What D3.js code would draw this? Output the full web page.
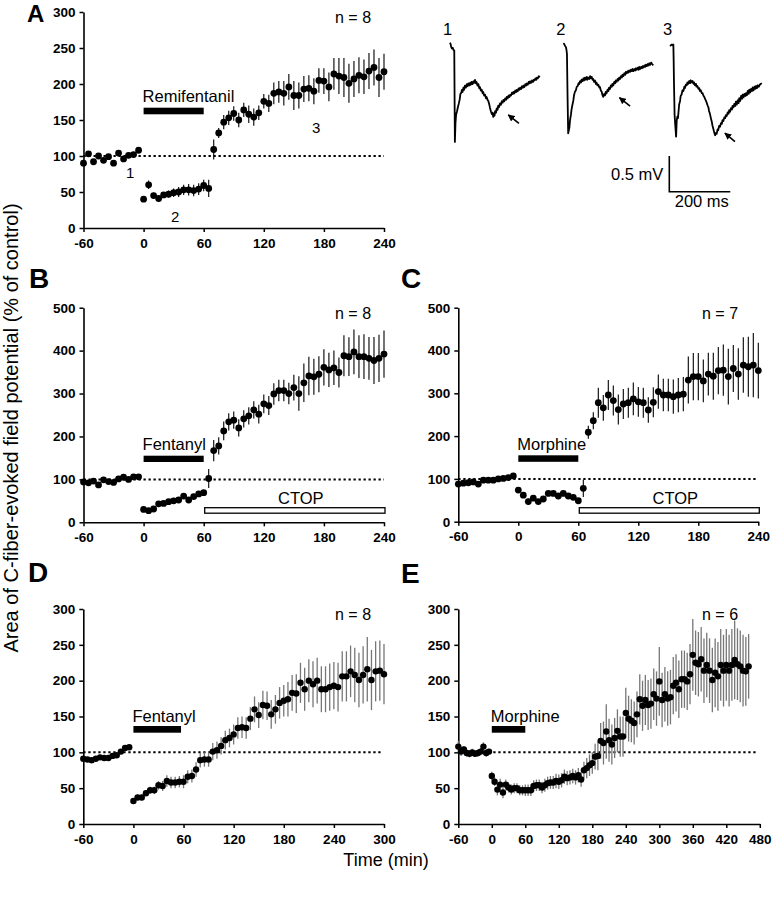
<!DOCTYPE html>
<html><head><meta charset="utf-8">
<script src="https://cdn.jsdelivr.net/npm/d3@7"></script>
<style>
body{margin:0;background:#fff}
svg{display:block}
text{font-family:"Liberation Sans",Arial,Helvetica,sans-serif}
</style>
</head><body>
<svg id="c" width="772" height="900"></svg>
<script>
// ---------------- DATA ----------------
// sampling times (min), one point every 5 min
const timesA = d3.range(-60, 241, 5);
const timesB = d3.range(-60, 241, 5);
const timesC = d3.range(-60, 241, 5);
const timesD = d3.range(-60, 301, 5);
const timesE = d3.range(-60, 461, 5);

// Panel A: remifentanil (% of control) and SEM
const valuesA = [90,103,92,100,94,99,90,104,96,101,102,108,
  40,60,45,41,46,47,49,50,53,53,52,54,59,55,
  109,132,147,153,159,150,164,158,154,160,176,173,187,189,187,196,184,184,193,194,190,205,204,196,214,211,209,201,207,212,210,218,223,209,217];
const semA = [3,3,3,3,3,3,3,3,3,3,3,3,
  4,6,4,4,4,5,6,7,7,8,8,8,8,12,
  14,7,10,10,10,10,10,12,12,10,10,12,15,15,17,18,20,18,18,18,18,17,18,20,22,25,27,27,25,25,24,25,25,27,25];

// Panel B: fentanyl + CTOP
const valuesB = [94,92,96,87,99,95,93,101,105,100,106,106,
  30,27,31,43,44,48,50,52,61,52,60,66,69,
  102,
  167,178,213,234,238,220,241,248,262,252,276,272,299,307,307,300,314,300,325,341,339,345,361,355,360,349,388,386,397,386,386,382,377,382,392];
const semB = [3,3,3,4,3,3,3,3,3,3,3,3,
  3,3,3,3,3,3,3,3,4,4,4,4,4,
  22,
  25,20,22,20,20,20,20,20,20,22,22,22,25,25,25,25,30,40,45,45,42,42,42,40,40,35,48,45,52,50,52,50,55,55,55];

// Panel C: morphine + CTOP
const valuesC = [88,90,91,93,88,97,97,97,100,101,103,107,
  74,62,47,55,47,53,66,66,60,66,60,57,49,
  78,
  209,236,278,266,296,283,262,275,278,287,280,278,261,279,304,296,296,292,296,298,331,339,339,329,345,340,353,354,339,358,345,366,362,366,353];
const semC = [3,3,3,3,3,3,3,3,3,3,3,3,
  5,5,7,6,5,5,5,5,5,5,5,5,5,
  20,
  15,20,35,30,35,35,35,35,35,38,35,35,30,35,40,38,38,40,40,40,55,55,55,50,50,55,55,60,65,55,60,65,70,75,65];

// Panel D: fentanyl, long recording
const valuesD = [91,90,89,91,93,92,92,95,96,101,106,107,
  32,37,37,43,47,47,54,53,60,58,58,59,59,66,67,76,89,90,90,101,103,109,117,120,125,134,135,134,
  147,160,152,166,165,153,160,169,172,174,183,182,197,188,200,195,200,188,188,191,193,191,
  206,206,213,208,201,208,216,201,213,214,209];
const semD = [3,3,3,3,3,3,3,3,3,3,3,3,
  4,4,4,4,5,5,6, 7,8,8,8,8,9, 9,9,10,10,10,10,
  12,12,12,13,13,14,15,15,15, 16,18,18,20,20,20,20,22,
  22,24,25,27,28,30,30,32,32,32,32,33,33,
  34,35,35,36,38,38,40,45,42,42,42,42];

// Panel E: morphine, long recording
const valuesE = [108,101,104,99,98,100,98,99,101,108,99,101,
  67,59,48,55,44,55,51,48,50,50,47,47,47,47,47,53,54,54,51,54,57,58,58,60,59,61,66,64,65,67,65,68,62,
  75,78,82,85,94,95,116,113,129,117,111,120,130,122,122,
  155,147,144,141,153,174,165,173,166,168,181,175,199,
  173,181,175,177,193,197,188,202,202,199,209,
  236,225,223,230,214,222,214,201,211,206,222,214,222,214,222,229,223,220,214,213,220];
const semE = [8,6,5,5,5,5,4,5,5,6,5,4,
  6,6,8,8,8,7,7,7,7,7,7,7,8,8,8,
  8,8,8,8,9,9,9,9,10,10,10,10,10,10,10,10,10,10,
  12,14,15,15,18,20,25,30,38,30,28,28,30,28,28,
  35,32,30,30,32,35,35,35,35,35,36,38,48,
  38,38,38,38,40,40,40,40,40,40,42,
  50,45,45,45,45,45,45,45,48,48,50,50,50,50,50,55,50,50,50,48,45];

const yTicks300 = [0,50,100,150,200,250,300];
const yTicks500 = [0,100,200,300,400,500];
const xTicks240 = [-60,0,60,120,180,240];
const xTicks300 = [-60,0,60,120,180,240,300];
const xTicks480 = [-60,0,60,120,180,240,300,360,420,480];

// Sample field potential traces: [time (ms), potential (mV)]
const trace1 = [[0,0],[2,-0.02],[4,-0.06],[6,-0.08],[9,-0.07],[11,-0.10],[14,-0.11],[16,-1.39],[18,-1.12],[20,-1.01],[23,-0.96],[26,-0.90],[29,-0.85],[32,-0.79],[34,-0.72],[37,-0.70],[39,-0.66],[41,-0.69],[44,-0.63],[46,-0.66],[49,-0.60],[52,-0.63],[55,-0.58],[57,-0.61],[60,-0.57],[63,-0.60],[66,-0.56],[68,-0.59],[71,-0.55],[74,-0.58],[77,-0.54],[80,-0.56],[82,-0.52],[85,-0.57],[87,-0.55],[90,-0.60],[93,-0.58],[96,-0.64],[98,-0.62],[101,-0.67],[104,-0.66],[107,-0.71],[109,-0.69],[112,-0.74],[115,-0.73],[118,-0.78],[120,-0.76],[123,-0.80],[126,-0.82],[129,-0.87],[131,-0.91],[134,-0.96],[137,-1.00],[139,-0.98],[142,-1.04],[144,-0.99],[146,-1.02],[148,-0.96],[151,-0.98],[153,-0.92],[156,-0.94],[158,-0.88],[161,-0.90],[164,-0.85],[167,-0.87],[170,-0.82],[173,-0.84],[175,-0.80],[178,-0.82],[181,-0.78],[184,-0.80],[186,-0.76],[189,-0.78],[192,-0.74],[195,-0.76],[197,-0.73],[200,-0.74],[203,-0.70],[206,-0.72],[208,-0.69],[211,-0.71],[214,-0.67],[217,-0.69],[219,-0.66],[222,-0.68],[225,-0.64],[228,-0.66],[230,-0.63],[233,-0.65],[236,-0.61],[239,-0.63],[241,-0.60],[244,-0.62],[247,-0.58],[250,-0.60],[252,-0.57],[255,-0.59],[258,-0.55],[261,-0.57],[263,-0.54],[266,-0.56],[269,-0.53],[272,-0.55],[274,-0.52],[277,-0.53],[280,-0.50],[283,-0.52],[285,-0.49],[288,-0.50],[291,-0.47],[295,-0.48]];
const trace2 = [[0,0],[3,-0.01],[5,-0.03],[8,-0.05],[10,-0.08],[12,-0.15],[14,-0.76],[16,-1.26],[18,-1.22],[20,-1.18],[22,-1.08],[25,-1.00],[27,-0.93],[30,-0.86],[33,-0.80],[35,-0.73],[38,-0.68],[41,-0.66],[44,-0.61],[47,-0.60],[50,-0.56],[52,-0.57],[55,-0.53],[58,-0.55],[60,-0.51],[63,-0.53],[66,-0.49],[68,-0.52],[71,-0.48],[74,-0.51],[77,-0.47],[79,-0.51],[82,-0.48],[85,-0.50],[88,-0.46],[90,-0.49],[93,-0.47],[96,-0.51],[98,-0.50],[101,-0.54],[104,-0.52],[107,-0.57],[109,-0.55],[112,-0.59],[115,-0.58],[118,-0.62],[120,-0.61],[123,-0.66],[126,-0.68],[128,-0.72],[131,-0.75],[134,-0.71],[137,-0.73],[139,-0.68],[142,-0.70],[145,-0.65],[148,-0.67],[150,-0.62],[153,-0.64],[156,-0.59],[159,-0.61],[161,-0.57],[164,-0.59],[167,-0.54],[170,-0.56],[172,-0.52],[175,-0.54],[178,-0.50],[181,-0.52],[183,-0.48],[186,-0.50],[189,-0.46],[192,-0.48],[194,-0.44],[197,-0.46],[200,-0.42],[203,-0.44],[205,-0.40],[208,-0.42],[211,-0.39],[214,-0.41],[216,-0.38],[219,-0.40],[222,-0.37],[225,-0.39],[227,-0.36],[230,-0.39],[233,-0.36],[236,-0.38],[238,-0.35],[241,-0.37],[244,-0.34],[247,-0.37],[249,-0.33],[252,-0.36],[255,-0.33],[258,-0.35],[260,-0.32],[263,-0.34],[266,-0.31],[269,-0.33],[271,-0.30],[274,-0.32],[277,-0.29],[280,-0.31],[282,-0.28],[285,-0.30],[288,-0.27],[291,-0.29],[295,-0.31]];
const trace3 = [[0,0],[3,0.01],[6,0.02],[9,0.01],[11,0.02],[12,-0.20],[13,-0.50],[15,-0.96],[17,-1.10],[20,-1.27],[22,-1.05],[24,-0.99],[26,-1.01],[28,-0.92],[30,-0.82],[33,-0.77],[35,-0.70],[38,-0.68],[41,-0.62],[44,-0.63],[47,-0.57],[49,-0.59],[52,-0.54],[55,-0.55],[57,-0.51],[60,-0.53],[63,-0.49],[66,-0.52],[68,-0.48],[71,-0.51],[74,-0.49],[77,-0.53],[79,-0.51],[82,-0.55],[85,-0.53],[87,-0.57],[90,-0.56],[93,-0.60],[96,-0.59],[98,-0.63],[101,-0.62],[104,-0.66],[107,-0.66],[109,-0.69],[112,-0.71],[115,-0.74],[118,-0.77],[120,-0.79],[123,-0.83],[126,-0.86],[128,-0.91],[131,-0.95],[134,-1.01],[137,-1.06],[139,-1.11],[142,-1.16],[145,-1.21],[148,-1.25],[150,-1.22],[153,-1.23],[156,-1.17],[158,-1.18],[161,-1.12],[164,-1.13],[167,-1.08],[170,-1.09],[172,-1.04],[175,-1.05],[178,-1.00],[181,-1.01],[183,-0.97],[186,-0.98],[189,-0.93],[192,-0.95],[194,-0.90],[197,-0.92],[200,-0.87],[203,-0.89],[205,-0.84],[208,-0.86],[211,-0.81],[214,-0.84],[216,-0.78],[219,-0.82],[222,-0.76],[225,-0.80],[227,-0.73],[230,-0.77],[233,-0.70],[236,-0.74],[238,-0.68],[241,-0.72],[244,-0.67],[247,-0.70],[249,-0.66],[252,-0.69],[255,-0.63],[258,-0.67],[260,-0.61],[263,-0.65],[266,-0.60],[269,-0.63],[271,-0.58],[274,-0.62],[277,-0.57],[280,-0.60],[282,-0.56],[285,-0.59],[288,-0.55],[291,-0.57],[295,-0.54],[301,-0.52]];
// arrows pointing at the late component: [tail, head] in (ms, mV)
const arrow1 = [[226,-1.13],[191,-1.01]];
const arrow2 = [[219,-0.88],[184,-0.76]];
const arrow3 = [[213,-1.34],[180,-1.22]];

// ---------------- DRAWING ----------------
const svg = d3.select("#c");
const defs = svg.append("defs");
defs.append("marker").attr("id","ah").attr("viewBox","0 0 10 10")
  .attr("refX",9).attr("refY",5).attr("markerWidth",7).attr("markerHeight",7)
  .attr("markerUnits","userSpaceOnUse").attr("orient","auto")
  .append("path").attr("d","M0,0 L10,5 L0,10 z").attr("fill","#000");

const plainFmt = d => String(d);

function panel(cfg) {
  const x = d3.scaleLinear().domain(cfg.xDomain).range([cfg.left, cfg.right]);
  const y = d3.scaleLinear().domain(cfg.yDomain).range([cfg.bottom, cfg.top]);
  const g = svg.append("g");

  const gy = g.append("g").attr("transform", `translate(${cfg.left},0)`)
    .call(d3.axisLeft(y).tickValues(cfg.yTicks).tickFormat(plainFmt).tickSize(4).tickPadding(4).tickSizeOuter(0));
  const gx = g.append("g").attr("transform", `translate(0,${cfg.bottom})`)
    .call(d3.axisBottom(x).tickValues(cfg.xTicks).tickFormat(plainFmt).tickSize(4).tickPadding(6).tickSizeOuter(0));
  [gy, gx].forEach(a => {
    a.select(".domain").attr("stroke","#000").attr("stroke-width",1.6);
    a.selectAll(".tick line").attr("stroke","#000").attr("stroke-width",1.5);
    a.selectAll(".tick text").attr("fill","#000").style("font-size","13.5px").style("font-weight","bold")
      .style("font-family",'"Liberation Sans",Arial,sans-serif');
  });

  // 100 % control line
  g.append("line").attr("x1", x(cfg.xDomain[0])).attr("x2", x(cfg.dotEnd))
    .attr("y1", y(100)).attr("y2", y(100))
    .attr("stroke","#000").attr("stroke-width",2).attr("stroke-dasharray","2.3,2.7");

  const pts = cfg.times.map((t,i) => ({t, v: cfg.values[i], s: cfg.sem[i]}));
  g.append("g").selectAll("line").data(pts).join("line")
    .attr("x1", d => x(d.t)).attr("x2", d => x(d.t))
    .attr("y1", d => y(d.v - d.s)).attr("y2", d => y(d.v + d.s))
    .attr("stroke", cfg.errColor).attr("stroke-width", cfg.errWidth);
  g.append("g").selectAll("circle").data(pts).join("circle")
    .attr("cx", d => x(d.t)).attr("cy", d => y(d.v)).attr("r", cfg.r).attr("fill","#000");

  // drug application bar
  g.append("rect").attr("x", x(0)).attr("width", x(cfg.drugEnd) - x(0))
    .attr("y", cfg.barY).attr("height", cfg.barH).attr("fill","#000");
  g.append("text").attr("x", x(0) - 1).attr("y", cfg.drugLabelY).text(cfg.drug)
    .style("font-size","16.5px").attr("fill","#000");

  if (cfg.ctop) {
    g.append("rect").attr("x", x(60) + 1).attr("width", x(240) - x(60))
      .attr("y", cfg.ctopY).attr("height", 5.5)
      .attr("fill","#fff").attr("stroke","#000").attr("stroke-width",1.3);
    g.append("text").attr("x", (x(60) + x(240)) / 2 + 7).attr("y", cfg.ctopY - 3.5)
      .attr("text-anchor","middle").text("CTOP").style("font-size","16.5px");
  }

  g.append("text").attr("x", cfg.nX).attr("y", cfg.top + 11).text(cfg.nText)
    .style("font-size","16px");
  g.append("text").attr("x", cfg.letterX).attr("y", cfg.letterY).text(cfg.letter)
    .style("font-size", cfg.letterSize + "px").style("font-weight","bold");
  return {x, y, g};
}

const pA = panel({letter:"A", letterX:27, letterY:22, letterSize:24,
  left:83.5, right:384, top:12, bottom:228, xDomain:[-60,240], yDomain:[0,300],
  xTicks:xTicks240, yTicks:yTicks300, dotEnd:240,
  times:timesA, values:valuesA, sem:semA, errColor:"#000", errWidth:1.1, r:3.4,
  drug:"Remifentanil", drugEnd:60, barY:107.7, barH:6.6, drugLabelY:101.7,
  nX:335, nText:"n = 8"});
// trace markers in panel A
[["1",126,178],["2",171,222],["3",312,133]].forEach(([s,xx,yy]) =>
  pA.g.append("text").attr("x",xx).attr("y",yy).text(s).style("font-size","15px"));

panel({letter:"B", letterX:29, letterY:288, letterSize:28,
  left:83.5, right:384, top:307.7, bottom:522.3, xDomain:[-60,240], yDomain:[0,500],
  xTicks:xTicks240, yTicks:yTicks500, dotEnd:240,
  times:timesB, values:valuesB, sem:semB, errColor:"#000", errWidth:1.1, r:3.4,
  drug:"Fentanyl", drugEnd:60, barY:455.7, barH:6.3, drugLabelY:450,
  ctop:true, ctopY:507.7, nX:335, nText:"n = 8"});

panel({letter:"C", letterX:401, letterY:288, letterSize:28,
  left:458.3, right:758.3, top:307.7, bottom:521.7, xDomain:[-60,240], yDomain:[0,500],
  xTicks:xTicks240, yTicks:yTicks500, dotEnd:240,
  times:timesC, values:valuesC, sem:semC, errColor:"#000", errWidth:1.1, r:3.4,
  drug:"Morphine", drugEnd:60, barY:455.3, barH:6.5, drugLabelY:450,
  ctop:true, ctopY:507.7, nX:702, nText:"n = 7"});

panel({letter:"D", letterX:28, letterY:582, letterSize:28,
  left:83.3, right:384, top:609, bottom:824, xDomain:[-60,300], yDomain:[0,300],
  xTicks:xTicks300, yTicks:yTicks300, dotEnd:298,
  times:timesD, values:valuesD, sem:semD, errColor:"#777", errWidth:1.3, r:3.2,
  drug:"Fentanyl", drugEnd:57, barY:726, barH:6.7, drugLabelY:721.7,
  nX:335, nText:"n = 8"});

panel({letter:"E", letterX:401, letterY:583, letterSize:28,
  left:458.3, right:759.8, top:609, bottom:824, xDomain:[-60,480], yDomain:[0,300],
  xTicks:xTicks480, yTicks:yTicks300, dotEnd:475,
  times:timesE, values:valuesE, sem:semE, errColor:"#777", errWidth:1.3, r:3.2,
  drug:"Morphine", drugEnd:60, barY:726, barH:6.7, drugLabelY:721.7,
  nX:702, nText:"n = 6"});

// ---------------- traces ----------------
const msPx = 61 / 200, mvPx = 35.7 / 0.5;
function drawTrace(data, arrow, ox, oy, label) {
  const tx = d3.scaleLinear().domain([0, 200]).range([ox, ox + 200 * msPx]);
  const ty = d3.scaleLinear().domain([0, -0.5]).range([oy, oy + 0.5 * mvPx]);
  svg.append("path").datum(data)
    .attr("d", d3.line().x(d => tx(d[0])).y(d => ty(d[1])))
    .attr("fill","none").attr("stroke","#000").attr("stroke-width",1.8)
    .attr("stroke-linejoin","round");
  svg.append("line")
    .attr("x1", tx(arrow[0][0])).attr("y1", ty(arrow[0][1]))
    .attr("x2", tx(arrow[1][0])).attr("y2", ty(arrow[1][1]))
    .attr("stroke","#000").attr("stroke-width",1.6).attr("marker-end","url(#ah)");
  svg.append("text").attr("x", ox - 7).attr("y", 35).text(label).style("font-size","16.5px");
}
drawTrace(trace1, arrow1, 450, 42.7, "1");
drawTrace(trace2, arrow2, 563.3, 43.3, "2");
drawTrace(trace3, arrow3, 670, 46, "3");

// scale bar
const sbx = d3.scaleLinear().domain([0, 200]).range([669.3, 669.3 + 200 * msPx]);
const sby = d3.scaleLinear().domain([0, 0.5]).range([191.7, 191.7 - 0.5 * mvPx]);
svg.append("path")
  .attr("d", `M${sbx(0)},${sby(0.5)} L${sbx(0)},${sby(0)} L${sbx(200)},${sby(0)}`)
  .attr("fill","none").attr("stroke","#000").attr("stroke-width",1.6);
svg.append("text").attr("x", sbx(0) - 6).attr("y", 180).attr("text-anchor","end")
  .text("0.5 mV").style("font-size","16.5px");
svg.append("text").attr("x", (sbx(0) + sbx(200)) / 2 + 2).attr("y", 207).attr("text-anchor","middle")
  .text("200 ms").style("font-size","16.5px");

// axis titles
svg.append("text").attr("transform","translate(18,428) rotate(-90)").attr("text-anchor","middle")
  .text("Area of C-fiber-evoked field potential (% of control)").style("font-size","20px");
svg.append("text").attr("x",386).attr("y",866).attr("text-anchor","middle")
  .text("Time (min)").style("font-size","18px");
</script>
</body></html>
